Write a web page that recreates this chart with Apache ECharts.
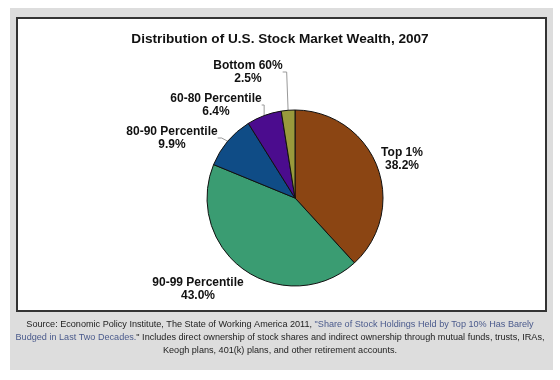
<!DOCTYPE html>
<html>
<head>
<meta charset="utf-8">
<script src="https://cdn.jsdelivr.net/npm/echarts@6/dist/echarts.min.js"></script>
<style>
html,body{margin:0;padding:0;background:#fff;}
#chart{width:560px;height:380px;}
</style>
</head>
<body>
<div id="chart"></div>
<script>
const titleText = 'Distribution of U.S. Stock Market Wealth, 2007';
const categories = ['Top 1%', '90-99 Percentile', '80-90 Percentile', '60-80 Percentile', 'Bottom 60%'];
const shares = [38.2, 43.0, 9.9, 6.4, 2.5];
const sliceColors = ['#8B4513', '#3A9C72', '#0F4C86', '#4B0C8E', '#999A3C'];
const showLeader = [false, false, true, true, true];
const sourceLines = [
  [['t', 'Source: Economic Policy Institute, The State of Working America 2011, '], ['l', '"Share of Stock Holdings Held by Top 10% Has Barely']],
  [['l', 'Budged in Last Two Decades.'], ['t', '" Includes direct ownership of stock shares and indirect ownership through mutual funds, trusts, IRAs,']],
  [['t', 'Keogh plans, 401(k) plans, and other retirement accounts.']]
];

// label centre positions (layout, pixels)
const labelPos = [[402, 159], [198, 289], [172, 138], [216, 105], [248, 72]];
const sourceY = [324, 337, 350];

const chart = echarts.init(document.getElementById('chart'), null, {renderer: 'canvas'});
const FONT = '"Liberation Sans", Arial, Helvetica, sans-serif';

const graphics = [
  {type: 'rect', z: -10, silent: true, shape: {x: 10, y: 8, width: 543, height: 362}, style: {fill: '#dddddd'}},
  {type: 'rect', z: -9, silent: true, shape: {x: 17, y: 18, width: 529, height: 293}, style: {fill: '#ffffff', stroke: '#333333', lineWidth: 2}}
];
sourceLines.forEach(function (parts, i) {
  graphics.push({
    type: 'text', silent: true,
    style: {
      x: 280, y: sourceY[i],
      text: parts.map(function (p) { return '{' + p[0] + '|' + p[1] + '}'; }).join(''),
      align: 'center', verticalAlign: 'middle',
      rich: {
        t: {fill: '#222222', fontSize: 9.1, fontFamily: FONT},
        l: {fill: '#4a5a8c', fontSize: 9.1, fontFamily: FONT}
      }
    }
  });
});

chart.setOption({
  animation: false,
  backgroundColor: '#ffffff',
  title: {
    text: titleText,
    left: 'center',
    top: 27,
    textStyle: {fontSize: 13.6, fontWeight: 'bold', color: '#111111', fontFamily: FONT}
  },
  graphic: graphics,
  series: [{
    type: 'pie',
    center: [295, 198],
    radius: [0, 88],
    startAngle: 90,
    clockwise: true,
    avoidLabelOverlap: false,
    data: categories.map(function (c, i) {
      return {
        name: c,
        value: shares[i],
        itemStyle: {color: sliceColors[i]},
        labelLine: {show: showLeader[i]}
      };
    }),
    itemStyle: {borderColor: '#111111', borderWidth: 1},
    label: {
      show: true,
      position: 'outside',
      formatter: function (p) { return p.name + '\n' + p.value.toFixed(1) + '%'; },
      fontFamily: FONT,
      fontSize: 12,
      fontWeight: 'bold',
      color: '#111111',
      lineHeight: 13,
      align: 'center'
    },
    labelLine: {
      show: true,
      length: 6,
      length2: 4,
      lineStyle: {color: '#999999', width: 1}
    },
    labelLayout: function (params) {
      const p = labelPos[params.dataIndex];
      return {x: p[0], y: p[1], align: 'center', verticalAlign: 'middle'};
    }
  }]
});
</script>
</body>
</html>
